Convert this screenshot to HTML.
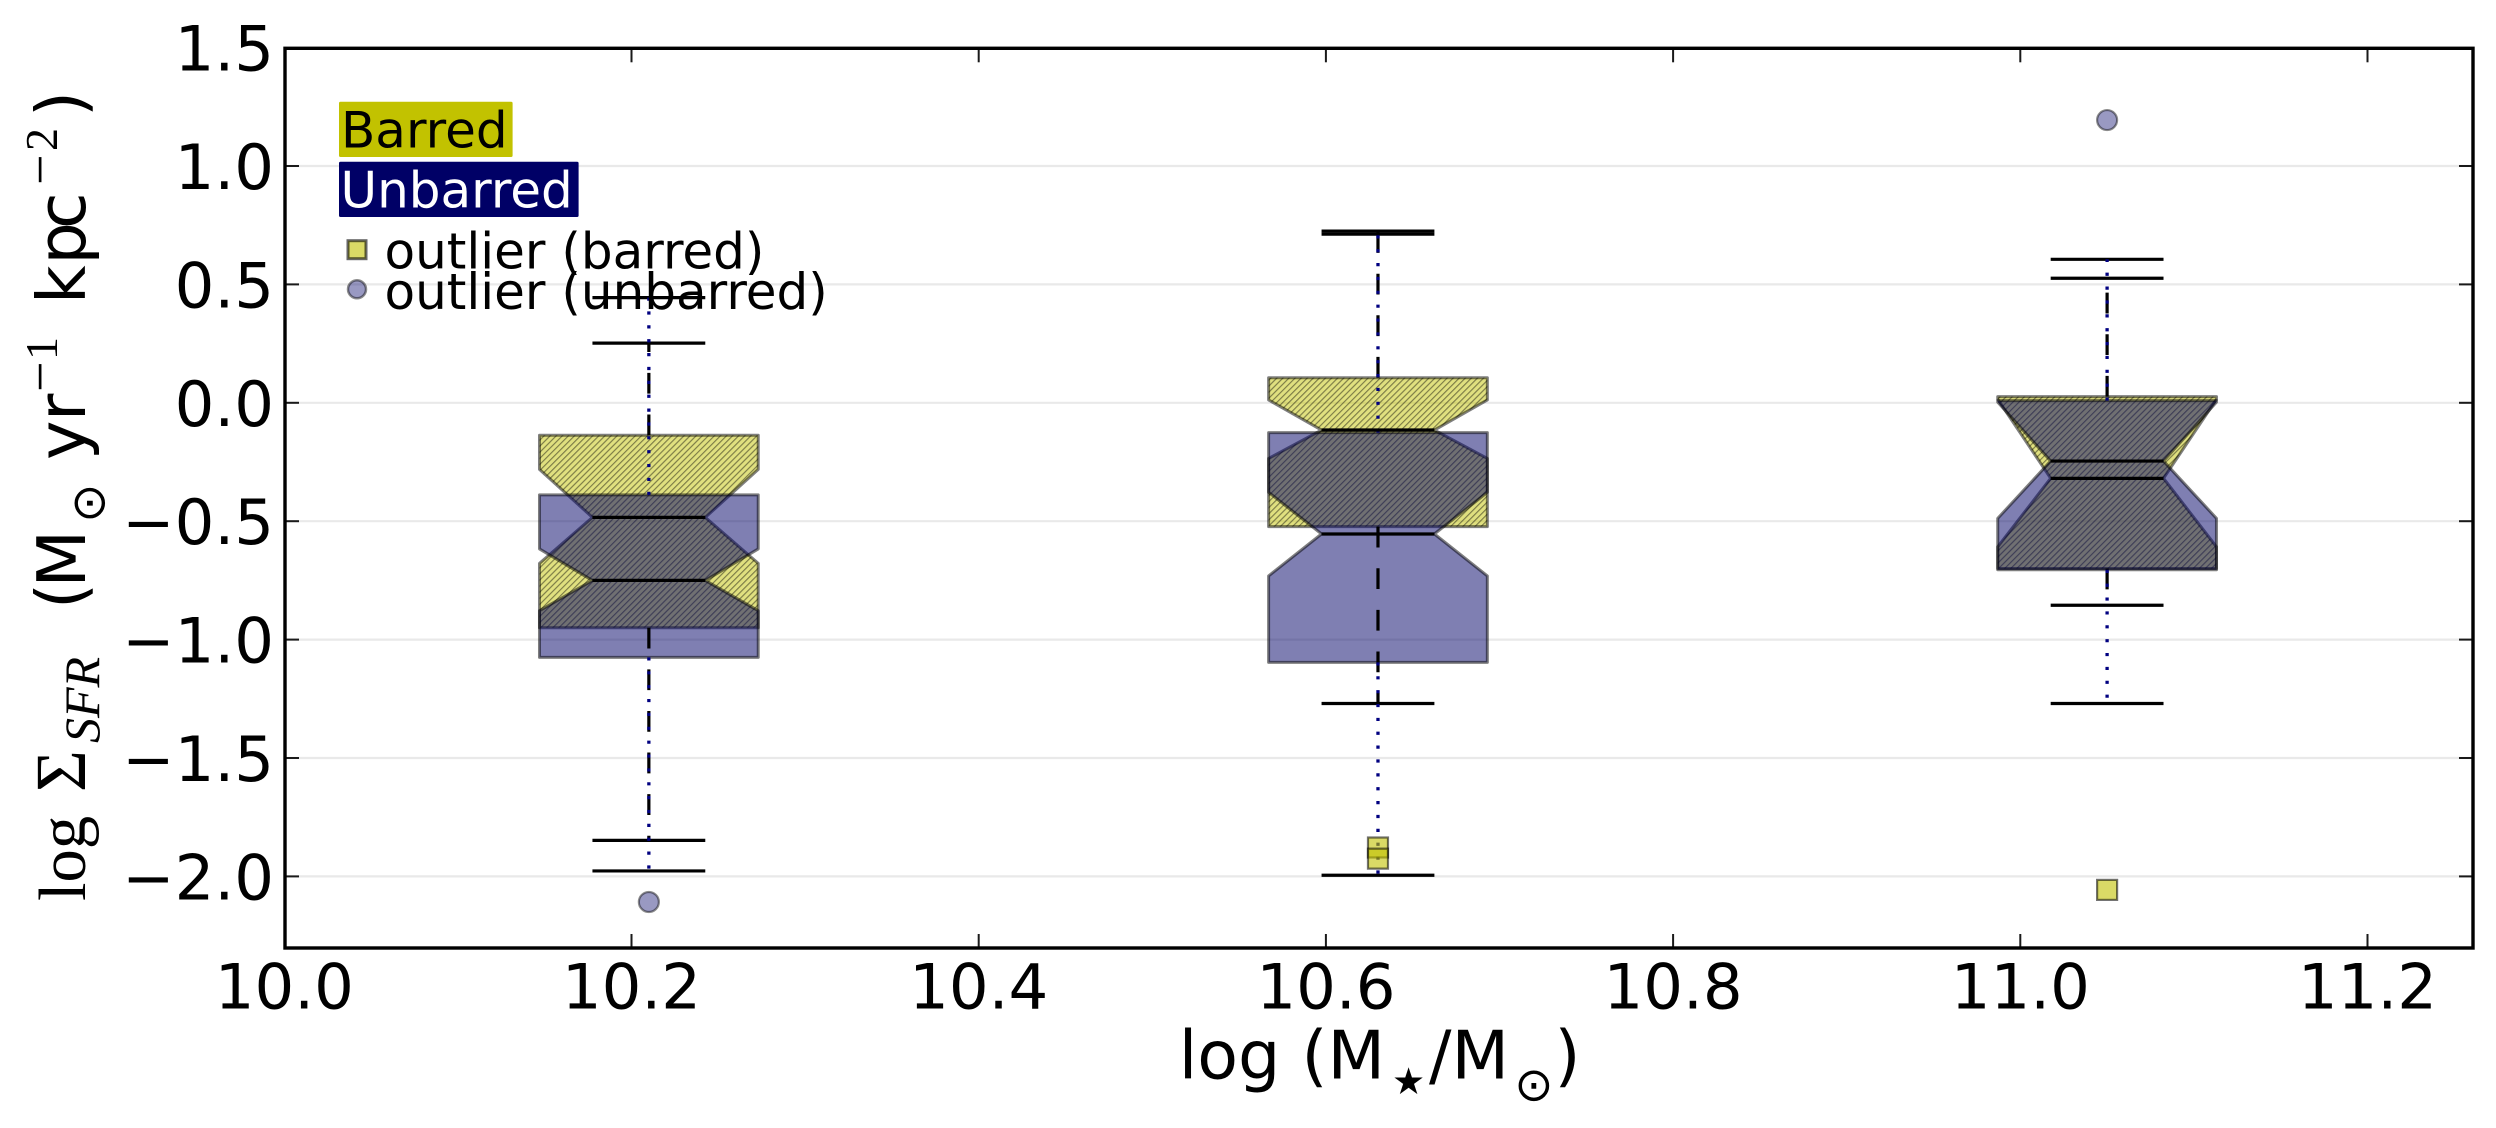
<!DOCTYPE html>
<html lang="en">
<head>
<meta charset="utf-8">
<title>log Sigma SFR vs stellar mass</title>
<style>
html,body{margin:0;padding:0;background:#fff;}
svg{display:block;}
text{font-family:"DejaVu Sans","Liberation Sans",sans-serif;fill:#000;}
.serif{font-family:"Liberation Serif","DejaVu Serif",serif;}
</style>
</head>
<body>
<svg id="chart" xmlns="http://www.w3.org/2000/svg" width="2496" height="1128" viewBox="0 0 2496 1128">
  <defs>
    <pattern id="hatch" patternUnits="userSpaceOnUse" width="4.3" height="4.3" patternTransform="rotate(45)">
      <rect x="0" y="0" width="1.15" height="4.3" fill="#000" fill-opacity="0.45"></rect>
    </pattern>
  </defs>
  <rect x="0" y="0" width="2496" height="1128" fill="#fff"></rect>
  <g id="grid"></g>
  <g id="boxes"></g>
  <g id="whiskers"></g>
  <g id="outliers"></g>
  <g id="ticks"></g>
  <rect x="285" y="48.3" width="2188" height="899.7" fill="none" stroke="#000" stroke-width="3.4"></rect>
  <g id="tick-labels" font-size="62.5"></g>

  <g>
    <rect x="339" y="101.7" width="173.6" height="55.3" rx="1.5" fill="#c2c200"></rect>
    <text x="341" y="147.3" font-size="50">Barred</text>
    <rect x="339" y="161.7" width="239.6" height="55.3" rx="1.5" fill="#000066"></rect>
    <text x="340.5" y="207.3" font-size="50" style="fill:#fff">Unbarred</text>
    <rect x="348" y="240.7" width="18" height="18" fill="#c2c200" fill-opacity="0.6" stroke="#000" stroke-opacity="0.6" stroke-width="3"></rect>
    <text x="384.5" y="268.5" font-size="50">outlier (barred)</text>
    <circle cx="357" cy="289.3" r="9" fill="#000066" fill-opacity="0.4" stroke="#000" stroke-opacity="0.45" stroke-width="2.5"></circle>
    <text x="384.5" y="309" font-size="50">outlier (unbarred)</text>
  </g>

  <g font-size="66.67">
    <text x="1178.7" y="1078.3">log (M</text>
    <text x="1392" y="1094" font-size="37">★</text>
    <text x="1429" y="1078.3">/M</text>
    <text x="1514.4" y="1100.5" font-size="46.67">⊙</text>
    <text x="1554.5" y="1078.3">)</text>
  </g>

  <g font-size="66.67">
    <text class="serif" transform="translate(85,901) rotate(-90)">log</text>
    <text class="serif" transform="translate(85,792) rotate(-90)" font-size="72">Σ</text>
    <text class="serif" transform="translate(99,743) rotate(-90)" font-size="50" font-style="italic">SFR</text>
    <text transform="translate(84,609) rotate(-90)">(</text>
    <text transform="translate(85,587.5) rotate(-90)">M</text>
    <text transform="translate(104.5,522.6) rotate(-90)" font-size="46.67">⊙</text>
    <text transform="translate(85,460) rotate(-90)">y</text>
    <text transform="translate(85,421) rotate(-90)">r</text>
    <text class="serif" transform="translate(58,392) rotate(-90)" font-size="54">−</text>
    <text class="serif" transform="translate(57,360) rotate(-90)" font-size="46">1</text>
    <text transform="translate(85,304) rotate(-90)">k</text>
    <text transform="translate(85,264.5) rotate(-90)">p</text>
    <text transform="translate(85,229) rotate(-90)">c</text>
    <text class="serif" transform="translate(58,185) rotate(-90)" font-size="54">−</text>
    <text class="serif" transform="translate(57,151) rotate(-90)" font-size="46">2</text>
    <text transform="translate(84,117) rotate(-90)">)</text>
  </g>
</svg>
<script>
// Axis tick values
const xTicks = [10.0, 10.2, 10.4, 10.6, 10.8, 11.0, 11.2];
const xTickLabels = ["10.0", "10.2", "10.4", "10.6", "10.8", "11.0", "11.2"];
const yTicks = [1.5, 1.0, 0.5, 0.0, -0.5, -1.0, -1.5, -2.0];
const yTickLabels = ["1.5", "1.0", "0.5", "0.0", "−0.5", "−1.0", "−1.5", "−2.0"];

// Mass bins
const binCenters = [10.21, 10.63, 11.05];
const boxWidth = 0.126;
const notchWidth = 0.065;

// Barred series statistics
const barredQ3 = [-0.137, 0.106, 0.026];
const barredNotchHigh = [-0.281, 0.012, 0.015];
const barredMedian = [-0.484, -0.115, -0.319];
const barredNotchLow = [-0.678, -0.235, -0.608];
const barredQ1 = [-0.950, -0.523, -0.700];
const barredCapHigh = [0.252, 0.725, 0.526];
const barredCapLow = [-1.848, -1.270, -0.855];

// Unbarred series statistics
const unbarredQ3 = [-0.389, -0.126, 0.009];
const unbarredNotchHigh = [-0.617, -0.378, 0.003];
const unbarredMedian = [-0.750, -0.554, -0.246];
const unbarredNotchLow = [-0.878, -0.731, -0.488];
const unbarredQ1 = [-1.075, -1.096, -0.705];
const unbarredCapHigh = [0.444, 0.712, 0.606];
const unbarredCapLow = [-1.977, -1.995, -1.270];

// Outliers
const barredOutlierX = [10.63, 10.63, 11.05];
const barredOutlierY = [-1.878, -1.925, -2.057];
const unbarredOutlierX = [10.21, 11.05];
const unbarredOutlierY = [-2.108, 1.194];

const X0 = 284.3, XS = 1736, Y0 = 402.8, YS = 236.8;
const PLOT_LEFT = 285, PLOT_RIGHT = 2473, PLOT_TOP = 48.3, PLOT_BOTTOM = 948;
function xPos(v) { return X0 + (v - 10) * XS; }
function yPos(v) { return Y0 - v * YS; }

const NS = 'http://www.w3.org/2000/svg';
function make(tag, parent) {
  const node = document.createElementNS(NS, tag);
  parent.appendChild(node);
  return node;
}
function setAll(node, attrs) {
  for (const k in attrs) node.setAttribute(k, attrs[k]);
}
function boxPath(c, q1, nl, m, nh, q3) {
  const l = xPos(c - boxWidth / 2), r = xPos(c + boxWidth / 2);
  const ml = xPos(c - notchWidth / 2), mr = xPos(c + notchWidth / 2);
  return 'M' + l + ' ' + yPos(q1) + 'L' + r + ' ' + yPos(q1) + 'L' + r + ' ' + yPos(nl) +
    'L' + mr + ' ' + yPos(m) + 'L' + r + ' ' + yPos(nh) + 'L' + r + ' ' + yPos(q3) +
    'L' + l + ' ' + yPos(q3) + 'L' + l + ' ' + yPos(nh) + 'L' + ml + ' ' + yPos(m) +
    'L' + l + ' ' + yPos(nl) + 'Z';
}

const gGrid = document.getElementById('grid');
const gBoxes = document.getElementById('boxes');
const gWhiskers = document.getElementById('whiskers');
const gOutliers = document.getElementById('outliers');
const gTicks = document.getElementById('ticks');
const gLabels = document.getElementById('tick-labels');

yTicks.forEach(function (v, i) {
  if (v < 1.5) {
    const g = make('line', gGrid);
    
    
    setAll(g, {x1: PLOT_LEFT, x2: PLOT_RIGHT, y1: yPos(v), y2: yPos(v), stroke: '#e9e9e9', 'stroke-width': 2.2});
    const t1 = make('line', gTicks);
    
    
    setAll(t1, {x1: PLOT_LEFT, x2: PLOT_LEFT + 14, y1: yPos(v), y2: yPos(v), stroke: '#1a1a1a', 'stroke-width': 2});
    const t2 = make('line', gTicks);
    
    
    setAll(t2, {x1: PLOT_RIGHT - 14, x2: PLOT_RIGHT, y1: yPos(v), y2: yPos(v), stroke: '#1a1a1a', 'stroke-width': 2});
  }
  const lab = make('text', gLabels);
  
  
  setAll(lab, {x: 274, y: yPos(v) + 23, 'text-anchor': 'end'});
  lab.textContent = yTickLabels[i];
});

xTicks.forEach(function (v, i) {
  if (v > 10) {
    const t1 = make('line', gTicks);
    
    
    setAll(t1, {x1: xPos(v), x2: xPos(v), y1: PLOT_BOTTOM - 14, y2: PLOT_BOTTOM, stroke: '#1a1a1a', 'stroke-width': 2});
    const t2 = make('line', gTicks);
    
    
    setAll(t2, {x1: xPos(v), x2: xPos(v), y1: PLOT_TOP, y2: PLOT_TOP + 14, stroke: '#1a1a1a', 'stroke-width': 2});
  }
  const lab = make('text', gLabels);
  
  
  setAll(lab, {x: xPos(v), y: 1008.3, 'text-anchor': 'middle'});
  lab.textContent = xTickLabels[i];
});

binCenters.forEach(function (c, i) {
  const dBar = boxPath(c, barredQ1[i], barredNotchLow[i], barredMedian[i], barredNotchHigh[i], barredQ3[i]);
  const dUnb = boxPath(c, unbarredQ1[i], unbarredNotchLow[i], unbarredMedian[i], unbarredNotchHigh[i], unbarredQ3[i]);

  const bf = make('path', gBoxes);
  
  
  setAll(bf, {d: dBar, fill: '#c2c200', 'fill-opacity': 0.5});

  const bh = make('path', gBoxes);
  
  
  setAll(bh, {d: dBar, fill: 'url(#hatch)', stroke: '#000', 'stroke-opacity': 0.5, 'stroke-width': 3, 'stroke-linejoin': 'round'});

  const ub = make('path', gBoxes);
  
  
  setAll(ub, {d: dUnb, fill: '#000066', 'fill-opacity': 0.5, stroke: '#000', 'stroke-opacity': 0.5, 'stroke-width': 3, 'stroke-linejoin': 'round'});

  const capL = xPos(c - notchWidth / 2), capR = xPos(c + notchWidth / 2), cx = xPos(c);

  // barred whiskers (dashed black)
  [[barredQ3[i], barredCapHigh[i]], [barredQ1[i], barredCapLow[i]]].forEach(function (pair) {
    const w = make('line', gWhiskers);
    
    
    setAll(w, {x1: cx, x2: cx, y1: yPos(pair[0]), y2: yPos(pair[1]), stroke: '#000', 'stroke-width': 3.2, 'stroke-dasharray': '20.8 20.8'});
    const cap = make('line', gWhiskers);
    
    
    setAll(cap, {x1: capL, x2: capR, y1: yPos(pair[1]), y2: yPos(pair[1]), stroke: '#000', 'stroke-width': 3.2});
  });

  // unbarred whiskers (dotted navy)
  [[unbarredQ3[i], unbarredCapHigh[i]], [unbarredQ1[i], unbarredCapLow[i]]].forEach(function (pair) {
    const cap = make('line', gWhiskers);
    
    
    setAll(cap, {x1: capL, x2: capR, y1: yPos(pair[1]), y2: yPos(pair[1]), stroke: '#000', 'stroke-width': 3.2});
    const w = make('line', gWhiskers);
    
    
    setAll(w, {x1: cx, x2: cx, y1: yPos(pair[0]), y2: yPos(pair[1]), stroke: '#000080', 'stroke-width': 3.3, 'stroke-dasharray': '3.2 10.67'});
  });

  const m1 = make('line', gWhiskers);
  
  
  setAll(m1, {x1: capL, x2: capR, y1: yPos(barredMedian[i]), y2: yPos(barredMedian[i]), stroke: '#000', 'stroke-width': 3.2});

  const m2 = make('line', gWhiskers);
  
  
  setAll(m2, {x1: capL, x2: capR, y1: yPos(unbarredMedian[i]), y2: yPos(unbarredMedian[i]), stroke: '#000', 'stroke-width': 3.2});
});

barredOutlierX.forEach(function (v, i) {
  const s = make('rect', gOutliers);
  
  
  setAll(s, {x: xPos(v) - 10, y: yPos(barredOutlierY[i]) - 10, width: 20, height: 20, fill: '#c2c200', 'fill-opacity': 0.6, stroke: '#000', 'stroke-opacity': 0.55, 'stroke-width': 2.2});
});

unbarredOutlierX.forEach(function (v, i) {
  const s = make('circle', gOutliers);
  
  
  setAll(s, {cx: xPos(v), cy: yPos(unbarredOutlierY[i]), r: 10, fill: '#000066', 'fill-opacity': 0.4, stroke: '#000', 'stroke-opacity': 0.45, 'stroke-width': 2.2});
});
</script>
</body>
</html>
